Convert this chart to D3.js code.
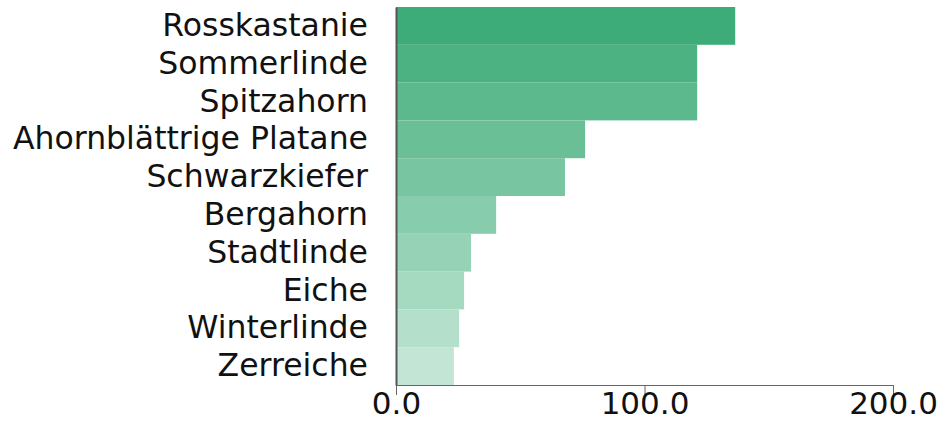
<!DOCTYPE html>
<html>
<head>
<meta charset="utf-8">
<script src="https://cdn.jsdelivr.net/npm/d3@7"></script>
<style>
  body { margin: 0; background: #fff; }
  text { font-family: "DejaVu Sans", sans-serif; fill: #111; }
</style>
</head>
<body>
<div id="myChart"></div>
<script>
let width = 942;
let height = 421;

// data
const trees = ["Rosskastanie", "Sommerlinde", "Spitzahorn", "Ahornblättrige Platane",
  "Schwarzkiefer", "Bergahorn", "Stadtlinde", "Eiche", "Winterlinde", "Zerreiche"];
const counts = [136.5, 121.2, 121.2, 76.1, 68.0, 40.3, 30.2, 27.4, 25.4, 23.3];
const xTicks = [0, 100, 200];

let margin = {top: 7, right: 49, bottom: 36, left: 396};

let svg = d3.select("#myChart").append("svg")
  .attr("width", width)
  .attr("height", height)

var x = d3.scaleLinear()
  .domain([0, 200])
  .range([margin.left, width - margin.right]);

var y = d3.scaleBand()
  .domain(trees)
  .range([margin.top, height - margin.bottom])
  .padding(0);

// lighter the further down the ranking
var opacity = d3.scaleLinear()
  .domain([0, trees.length - 1])
  .range([1, 0.31]);

var base = d3.rgb("#3dac78");

svg.append("g")
  .selectAll("rect")
  .data(trees)
  .enter()
  .append("rect")
    .attr("x", x(0))
    .attr("y", d => y(d))
    .attr("width", (d, i) => x(counts[i]) - x(0))
    .attr("height", y.bandwidth())
    .attr("fill", (d, i) => d3.interpolateRgb("#ffffff", base)(opacity(i)));

// x axis
let xAxis = svg.append("g")
  .attr("transform", `translate(0,${height - margin.bottom})`)
  .call(d3.axisBottom(x).tickValues(xTicks).tickFormat(d3.format(".1f")).tickSize(10).tickSizeOuter(0));
xAxis.select(".domain").attr("stroke", "#666");
xAxis.selectAll(".tick line").attr("stroke", "#666");
xAxis.selectAll("text")
  .attr("y", 7)
  .attr("font-size", 31)
  .style("font-family", "'DejaVu Sans', sans-serif")
  .attr("fill", "#111");

// y axis
let yAxis = svg.append("g")
  .attr("transform", `translate(${x(0)},0)`)
  .call(d3.axisLeft(y).tickSize(0).tickPadding(28));
yAxis.select(".domain").attr("stroke", "#555").attr("stroke-width", 2);
yAxis.selectAll("text")
  .attr("font-size", 31.5)
  .style("font-family", "'DejaVu Sans', sans-serif")
  .attr("fill", "#111");
</script>
</body>
</html>
